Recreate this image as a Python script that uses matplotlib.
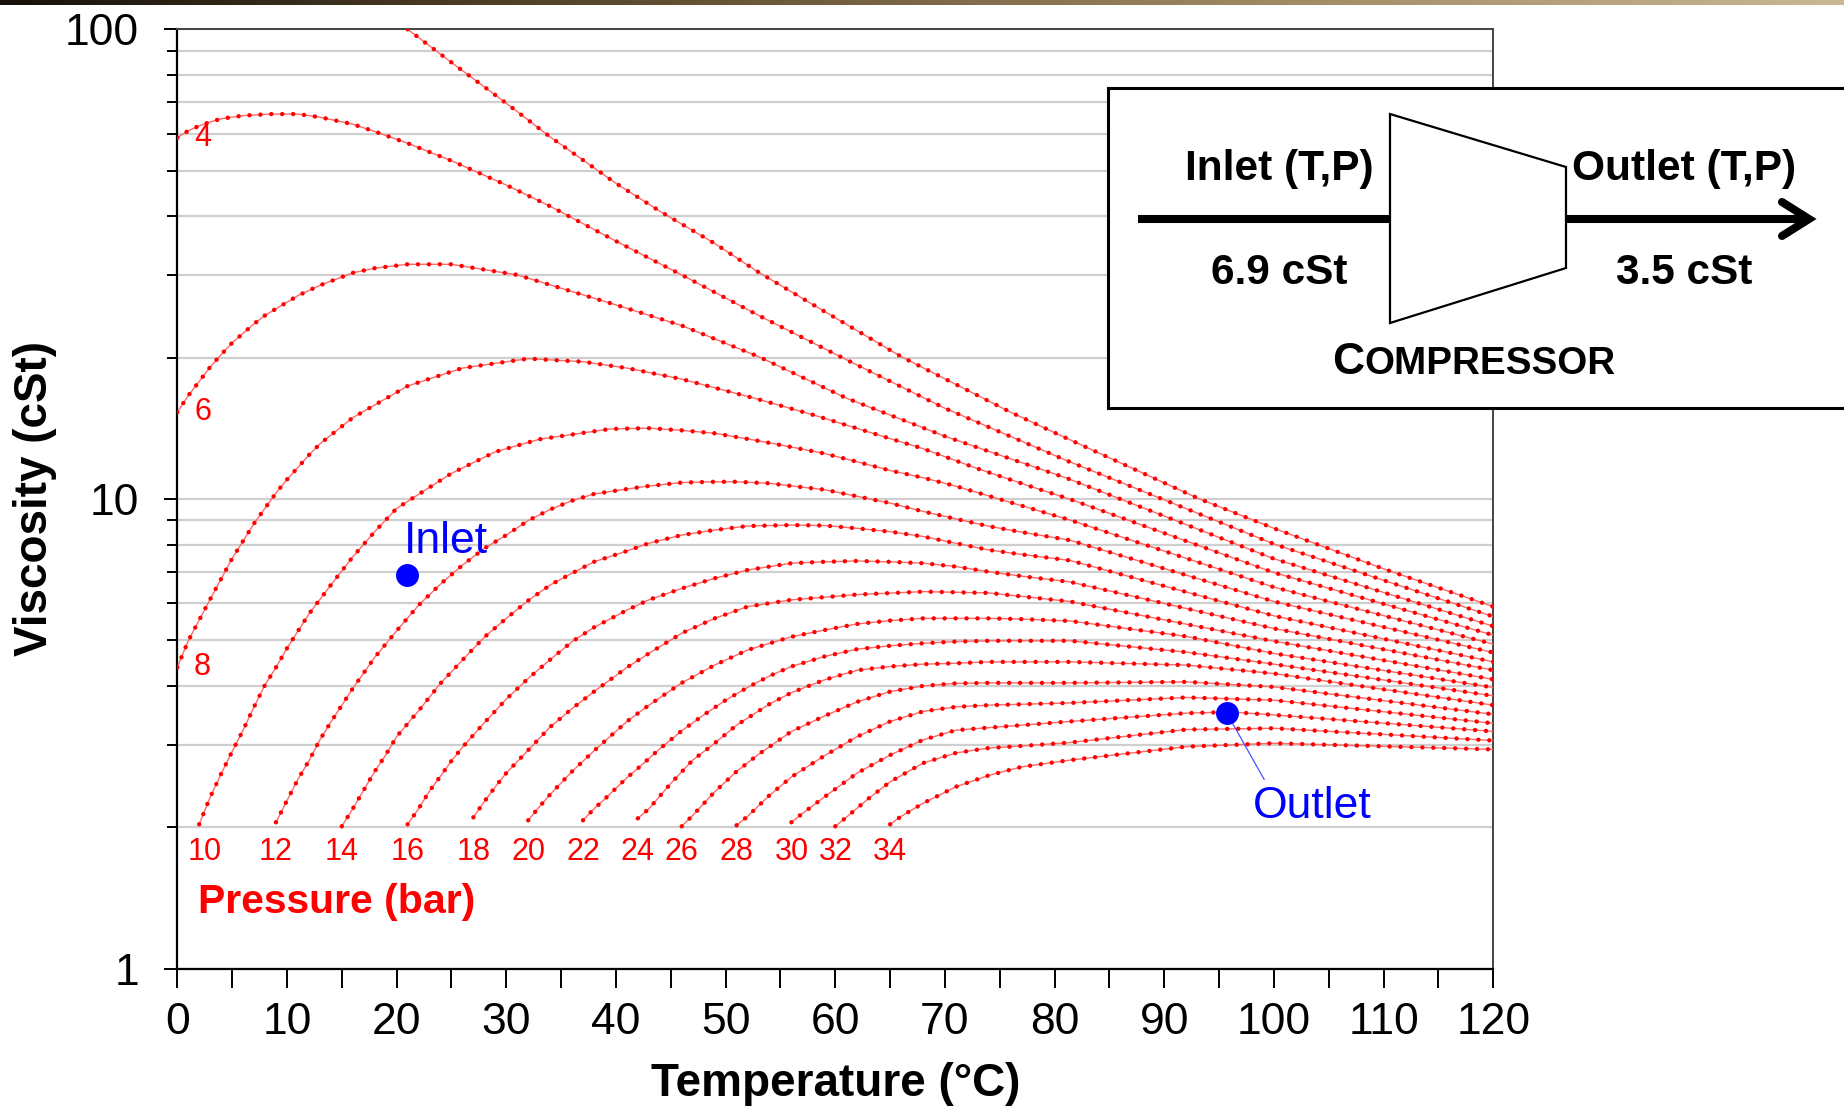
import matplotlib
matplotlib.use('Agg')
import matplotlib.pyplot as plt
import numpy as np
from matplotlib.patches import Polygon
from matplotlib.ticker import LogLocator, NullFormatter
from matplotlib.colors import LinearSegmentedColormap

plt.rcParams['font.family'] = 'Liberation Sans'

# temperature (C) / viscosity (cSt), one pair per curve
T_OIL = [21, 25, 30, 34, 40, 44, 49, 53, 58, 66, 76, 81, 93, 100, 110, 120]
V_OIL = [100, 85, 69.6, 59, 47, 41, 35, 30.4, 25.9, 20.1, 15.3, 13.5, 10.05, 8.66, 7.1, 5.9]

T_P4 = [0, 1, 2, 3, 4, 6, 8.5, 11, 13, 16, 18, 21, 25, 30, 34, 40, 46, 53, 61, 70, 81, 100, 120]
V_P4 = [58.8, 60.8, 62.3, 63.5, 64.5, 65.5, 66.0, 66.0, 65.0, 62.8, 60.6, 57.2, 52.5, 46.6,
        42.0, 35.4, 30.0, 24.6, 19.8, 15.6, 12.1, 8.02, 5.62]

T_P6 = [0, 1, 2, 3, 4, 5, 7, 8, 11, 13, 16, 18, 21, 25, 31, 40, 46, 53, 61, 70, 81, 100, 120]
V_P6 = [15.3, 16.6, 17.8, 19.1, 20.3, 21.5, 23.6, 24.6, 27.1, 28.5, 30.3, 31.0, 31.6, 31.6,
        30.0, 25.9, 23.4, 20.1, 16.4, 13.6, 11.1, 7.46, 5.36]

T_P8 = [0, 1, 3, 5, 7, 9, 10, 12, 13, 16, 21, 26, 32, 37, 41, 46, 53, 58, 63, 68, 73, 78, 81.4, 100, 120]
V_P8 = [4.38, 4.99, 6.12, 7.47, 8.87, 10.3, 11.0, 12.4, 13.1, 14.9, 17.4, 19.0, 19.9, 19.6, 19.0,
        18.0, 16.3, 15.1, 13.9, 12.8, 11.6, 10.6, 9.99, 6.97, 5.13]

T_P10 = [2, 3, 4, 5, 6, 7, 8, 9, 10, 12, 14, 16, 18, 20, 25, 29, 33, 39.5, 43, 46, 49, 53, 56, 59,
         62, 65, 68, 71, 74, 81.4, 100, 120]
V_P10 = [2.03, 2.32, 2.60, 2.90, 3.22, 3.61, 4.02, 4.38, 4.81, 5.69, 6.56, 7.53, 8.52, 9.55, 11.34,
         12.6, 13.4, 14.1, 14.15, 14.0, 13.8, 13.3, 12.9, 12.5, 12.0, 11.5, 11.1, 10.65, 10.15,
         9.02, 6.49, 4.91]

T_P12 = [9, 10, 11, 12, 13, 14, 16, 18, 20, 22, 24, 26, 28, 30, 32, 34, 36, 38, 41, 43, 46, 49, 51,
         54, 56, 59, 62, 65, 68, 71, 74, 77, 81.4, 100, 120]
V_P12 = [2.05, 2.28, 2.53, 2.77, 3.07, 3.35, 3.95, 4.60, 5.24, 5.94, 6.59, 7.23, 7.85, 8.38, 9.0,
         9.5, 9.92, 10.25, 10.5, 10.66, 10.84, 10.88, 10.88, 10.8, 10.66, 10.47, 10.13, 9.80,
         9.41, 9.07, 8.75, 8.5, 8.17, 6.05, 4.71]

T_P14 = [15, 16, 17, 18, 19, 20, 22, 24, 26, 28, 30, 32, 34, 36, 38, 41, 43, 46, 49, 52, 56, 59, 62,
         65, 68, 71, 74, 77, 81.4, 100, 120]
V_P14 = [2.01, 2.19, 2.40, 2.63, 2.85, 3.12, 3.54, 4.05, 4.54, 5.08, 5.57, 6.08, 6.56, 6.95, 7.35,
         7.75, 8.05, 8.38, 8.59, 8.76, 8.80, 8.78, 8.66, 8.52, 8.32, 8.05, 7.79, 7.62, 7.4, 5.64, 4.50]

T_P16 = [21, 22, 23, 24, 25, 26, 28, 30, 32, 34, 36, 38, 41, 43, 46, 49, 52, 56, 59, 62, 65, 68, 71,
         74, 77, 81.4, 100, 120]
V_P16 = [2.03, 2.19, 2.39, 2.57, 2.77, 2.96, 3.34, 3.75, 4.15, 4.55, 4.97, 5.33, 5.80, 6.10, 6.45,
         6.78, 7.06, 7.30, 7.35, 7.38, 7.35, 7.30, 7.18, 7.00, 6.85, 6.66, 5.30, 4.32]

T_P18 = [27, 28, 29, 30, 32, 34, 36, 38, 41, 43, 46, 49, 52, 56, 62, 68, 74, 81.4, 100, 120]
V_P18 = [2.10, 2.27, 2.44, 2.61, 2.92, 3.27, 3.58, 3.89, 4.38, 4.69, 5.18, 5.57, 5.90, 6.10, 6.26,
         6.35, 6.31, 6.05, 4.98, 4.13]

T_P20 = [32, 33, 34, 36, 38, 41, 43, 46, 49, 52, 56, 59, 62, 65, 68, 71, 74, 77, 81.4, 92, 100, 120]
V_P20 = [2.07, 2.21, 2.35, 2.63, 2.91, 3.36, 3.64, 4.06, 4.43, 4.77, 5.09, 5.26, 5.42, 5.51, 5.57,
         5.57, 5.57, 5.55, 5.5, 5.1, 4.69, 3.97]

T_P22 = [37, 38, 39, 41, 42, 44, 46, 48, 50, 52, 54, 56, 59, 62, 65, 68, 71, 74, 81.4, 92, 100, 120]
V_P22 = [2.07, 2.19, 2.30, 2.55, 2.67, 2.94, 3.21, 3.47, 3.73, 3.97, 4.20, 4.40, 4.62, 4.79, 4.87,
         4.93, 4.97, 4.99, 4.99, 4.72, 4.45, 3.81]

T_P24 = [42, 43, 45, 47, 49, 51, 54, 56, 59, 62, 65, 68, 71, 74, 81.4, 92, 100, 120]
V_P24 = [2.09, 2.19, 2.48, 2.78, 3.02, 3.30, 3.66, 3.87, 4.12, 4.32, 4.40, 4.45, 4.47, 4.50, 4.50,
         4.43, 4.25, 3.64]

T_P26 = [46, 47, 49, 51, 53, 56, 59, 62, 65, 68, 71, 74, 81.4, 92, 100, 120]
V_P26 = [2.01, 2.12, 2.38, 2.63, 2.86, 3.20, 3.45, 3.70, 3.89, 4.00, 4.05, 4.06, 4.06, 4.08, 3.98, 3.48]

T_P28 = [51, 52, 54, 56, 59, 62, 65, 68, 71, 74, 81.4, 92, 100, 120]
V_P28 = [2.02, 2.11, 2.34, 2.56, 2.84, 3.12, 3.36, 3.53, 3.61, 3.64, 3.68, 3.78, 3.73, 3.33]

T_P30 = [56, 57, 59, 62, 65, 68, 71, 74, 77, 81.4, 92, 96, 100, 120]
V_P30 = [2.05, 2.14, 2.32, 2.61, 2.85, 3.07, 3.22, 3.26, 3.30, 3.36, 3.50, 3.52, 3.47, 3.20]

T_P32 = [60, 61, 63, 65, 68, 71, 74, 77, 81.4, 92, 100, 120]
V_P32 = [2.01, 2.10, 2.30, 2.50, 2.74, 2.88, 2.95, 2.98, 3.03, 3.23, 3.25, 3.06]

T_P34 = [65, 66, 68, 71, 74, 77, 81.4, 92, 100, 120]
V_P34 = [2.03, 2.11, 2.25, 2.44, 2.58, 2.69, 2.78, 2.97, 3.02, 2.93]

PRESSURES = [4, 6, 8, 10, 12, 14, 16, 18, 20, 22, 24, 26, 28, 30, 32, 34]
CURVES_T = [T_P4, T_P6, T_P8, T_P10, T_P12, T_P14, T_P16, T_P18, T_P20, T_P22, T_P24, T_P26,
            T_P28, T_P30, T_P32, T_P34]
CURVES_V = [V_P4, V_P6, V_P8, V_P10, V_P12, V_P14, V_P16, V_P18, V_P20, V_P22, V_P24, V_P26,
            V_P28, V_P30, V_P32, V_P34]

INLET = (20.9, 6.9)
OUTLET = (95.7, 3.5)
INLET_CST = '6.9 cSt'
OUTLET_CST = '3.5 cSt'

W, H = 1844, 1107
fig = plt.figure(figsize=(W / 100, H / 100), dpi=100)
ax = fig.add_axes([177.3 / W, 1 - 968.7 / H, (1493.3 - 177.3) / W, (968.7 - 29.3) / H])
ax.set_yscale('log')
ax.set_xlim(0, 120)
ax.set_ylim(1, 100)


def draw_curve(t, v):
    ax.plot(t, v, color='#ff6a6a', lw=1.0, zorder=3)
    ax.plot(t, v, color='#ff0000', lw=3.2, linestyle=(0, (0.01, 2.45)),
            dash_capstyle='round', zorder=4)


draw_curve(T_OIL, V_OIL)
for t, v in zip(CURVES_T, CURVES_V):
    draw_curve(t, v)

red_font = dict(color='#ff0000', fontsize=22, ha='center', va='center')
for p, t, v in zip(PRESSURES, CURVES_T, CURVES_V):
    if t[0] == 0:
        ax.text(2.3, v[0], str(p), **red_font)
    else:
        ax.text(max(t[0], 2.5), 1.77, str(p), **red_font)
ax.text(1.9, 1.39, 'Pressure (bar)', color='#ff0000', fontsize=29.5, fontweight='bold',
        ha='left', va='center')

# inlet / outlet points
ax.plot(*INLET, 'o', color='#0000ff', ms=15.5, zorder=6)
ax.plot(*OUTLET, 'o', color='#0000ff', ms=15.5, zorder=6)
ax.text(20.7, 8.1, 'Inlet', color='#0000ff', fontsize=32, ha='left', va='center')
ax.plot([OUTLET[0], 99.1], [OUTLET[1], 2.53], color='#5050ff', lw=0.9, zorder=5)
ax.text(103.5, 2.21, 'Outlet', color='#0000ff', fontsize=32, ha='center', va='center')

# axes styling
ax.set_xticks(range(0, 121, 10))
ax.set_xticks(range(5, 120, 10), minor=True)
ax.set_yticks([1, 10, 100])
ax.set_yticklabels(['1', '10', '100'])
ax.yaxis.set_minor_locator(LogLocator(base=10, subs=np.arange(2, 10)))
ax.yaxis.set_minor_formatter(NullFormatter())
ax.tick_params(axis='x', which='both', direction='out', length=14, width=1.4,
               labelsize=32, pad=10)
ax.tick_params(axis='y', which='major', direction='out', length=9.5, width=1.4,
               labelsize=32, pad=18)
ax.tick_params(axis='y', which='minor', direction='out', length=7, width=1.4)
ax.yaxis.grid(True, which='both', color='#cfcfcf', lw=1.6)
ax.set_axisbelow(True)
for side in ['left', 'bottom']:
    ax.spines[side].set_linewidth(1.6)
    ax.spines[side].set_color('black')
for side in ['top', 'right']:
    ax.spines[side].set_linewidth(1.4)
    ax.spines[side].set_color('#444444')

ax.set_xlabel('Temperature (°C)', fontsize=33, fontweight='bold', labelpad=14)
ax.set_ylabel('Viscosity (cSt)', fontsize=33, fontweight='bold', labelpad=6)

# compressor sketch box (pixel coordinates of the picture)
bx = fig.add_axes([1108 / W, 1 - 408 / H, 0.45, 320 / H])
bx.set_xlim(1108, 1108 + 0.45 * W)
bx.set_ylim(408, 88)
bx.set_xticks([])
bx.set_yticks([])
for s in bx.spines.values():
    s.set_linewidth(2.2)
    s.set_color('black')
bx.plot([1138, 1806], [219, 219], color='black', lw=5.8, solid_capstyle='butt', zorder=2)
bx.plot([1782, 1809, 1782], [202, 219, 236], color='black', lw=5.8,
        solid_capstyle='round', solid_joinstyle='miter', zorder=2)
bx.add_patch(Polygon([(1390, 114), (1566, 167), (1566, 268), (1390, 323)], closed=True,
                     facecolor='white', edgecolor='black', lw=1.6, zorder=3))
box_font = dict(fontsize=30.5, fontweight='bold', ha='center', va='center')
bx.text(1279, 169, 'Inlet (T,P)', **box_font)
bx.text(1684, 169, 'Outlet (T,P)', **box_font)
bx.text(1279, 273, INLET_CST, **box_font)
bx.text(1684, 273, OUTLET_CST, **box_font)
c_txt = bx.text(1332, 374, 'C', fontsize=32, fontweight='bold', ha='left', va='baseline')
fig.canvas.draw()
bb = c_txt.get_window_extent()
x_next = bx.transData.inverted().transform((bb.x1, bb.y0))[0]
bx.text(x_next, 374, 'OMPRESSOR', fontsize=27.8, fontweight='bold', ha='left', va='baseline')

# thin slide bar along the top edge
gx = fig.add_axes([0, 1 - 5 / H, 1, 5 / H])
grad = np.linspace(0, 1, 256).reshape(1, -1)
gx.imshow(grad, aspect='auto',
          cmap=LinearSegmentedColormap.from_list('bar', ['#16110a', '#5c4a2e', '#9c8660', '#c9b892']))
gx.axis('off')

fig.savefig('out.png', dpi=100)
